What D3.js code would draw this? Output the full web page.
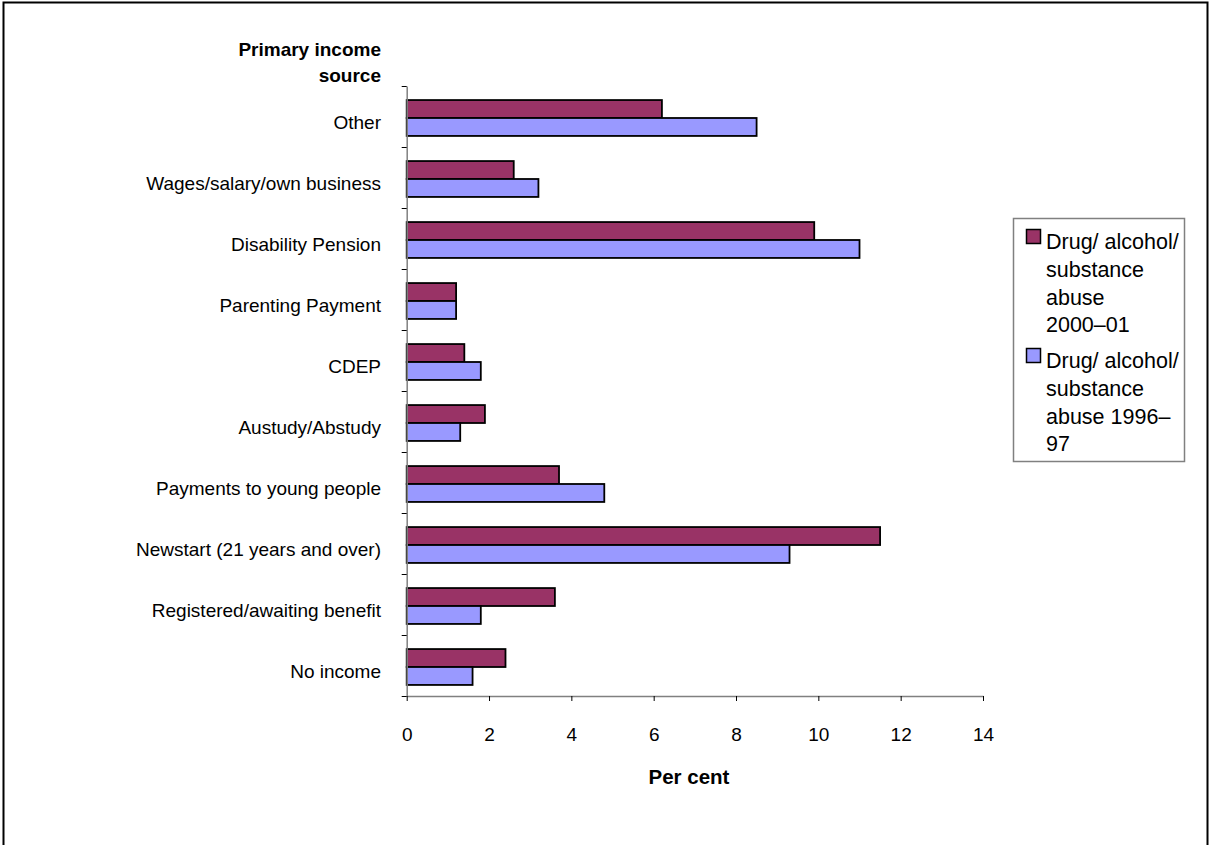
<!DOCTYPE html>
<html>
<head>
<meta charset="utf-8">
<script src="https://cdn.jsdelivr.net/npm/d3@7"></script>
<style>
  html, body { margin: 0; padding: 0; background: #fff; }
  svg { display: block; }
  text { font-family: "Liberation Sans", Arial, Helvetica, sans-serif; fill: #000; }
</style>
</head>
<body>
<svg id="chart" width="1213" height="845"></svg>
<script>
const categories = [
  "Other",
  "Wages/salary/own business",
  "Disability Pension",
  "Parenting Payment",
  "CDEP",
  "Austudy/Abstudy",
  "Payments to young people",
  "Newstart (21 years and over)",
  "Registered/awaiting benefit",
  "No income"
];
const series2000 = [6.2, 2.6, 9.9, 1.2, 1.4, 1.9, 3.7, 11.5, 3.6, 2.4];
const series1996 = [8.5, 3.2, 11.0, 1.2, 1.8, 1.3, 4.8, 9.3, 1.8, 1.6];
const seriesNames = ["2000–01", "1996–97"];
const xTicks = [0, 2, 4, 6, 8, 10, 12, 14];
const legendLines = [
  ["Drug/ alcohol/", "substance", "abuse", "2000–01"],
  ["Drug/ alcohol/", "substance", "abuse 1996–", "97"]
];
const yTitleLines = ["Primary income", "source"];
const xTitle = "Per cent";

const colors = ["#993366", "#9999FF"];
const svg = d3.select("#chart");

// frame
svg.append("rect")
  .attr("x", 3.5).attr("y", 2.5)
  .attr("width", 1204).attr("height", 900)
  .attr("fill", "none").attr("stroke", "#000").attr("stroke-width", 2);

const plot = { left: 406.7, right: 983, top: 86, bottom: 696 };

const x = d3.scaleLinear().domain([0, 14]).range([plot.left, plot.right]);
const y = d3.scaleBand().domain(categories).range([plot.top, plot.bottom]).padding(0);
const yInner = d3.scaleBand().domain(seriesNames).range([1.5, y.bandwidth() + 1.5]).paddingOuter(0.7).paddingInner(0);
const yEdge = d3.scaleLinear().domain([0, categories.length]).range([plot.top, plot.bottom]);

// bars
const data = categories.map((c, i) => ({ c, vals: [series2000[i], series1996[i]] }));
const groups = svg.append("g").selectAll("g")
  .data(data).join("g")
  .attr("transform", d => `translate(0,${y(d.c)})`);
groups.selectAll("rect")
  .data(d => d.vals.map((v, k) => ({ v, k })))
  .join("rect")
  .attr("x", x(0))
  .attr("y", d => yInner(seriesNames[d.k]))
  .attr("width", d => x(d.v) - x(0))
  .attr("height", yInner.bandwidth())
  .attr("fill", d => colors[d.k])
  .attr("stroke", "#000")
  .attr("stroke-width", 1.8);

// y axis (category boundaries)
const yAxis = svg.append("g")
  .attr("transform", `translate(${plot.left},0)`)
  .call(d3.axisLeft(yEdge).tickValues(d3.range(0, categories.length + 1)).tickFormat("").tickSize(5).tickSizeOuter(0));
yAxis.select(".domain").attr("stroke", "#808080").attr("stroke-width", 1.5);
yAxis.selectAll(".tick line").attr("stroke", "#000").attr("stroke-width", 1);

// category labels
svg.append("g").selectAll("text")
  .data(categories).join("text")
  .attr("x", 381)
  .attr("y", d => y(d) + y.bandwidth() / 2 + 6)
  .attr("dy", "0.35em")
  .attr("text-anchor", "end")
  .style("font-size", "19px")
  .text(d => d);

// x axis
const xAxis = svg.append("g")
  .attr("transform", `translate(0,${plot.bottom})`)
  .call(d3.axisBottom(x).tickValues(xTicks).tickSize(5).tickSizeOuter(0).tickPadding(27));
xAxis.select(".domain").attr("stroke", "#808080").attr("stroke-width", 1.5);
xAxis.selectAll(".tick line").attr("stroke", "#000").attr("stroke-width", 1);
xAxis.selectAll(".tick text")
  .style("font-size", "19px")
  .style("font-family", "'Liberation Sans', Arial, sans-serif")
  .attr("fill", "#000");

// axis titles
svg.append("g").selectAll("text")
  .data(yTitleLines).join("text")
  .attr("x", 381)
  .attr("y", (d, i) => 56 + i * 26)
  .attr("text-anchor", "end")
  .style("font-size", "19px")
  .style("font-weight", "bold")
  .text(d => d);

svg.append("text")
  .attr("x", 689).attr("y", 784)
  .attr("text-anchor", "middle")
  .style("font-size", "20.5px")
  .style("font-weight", "bold")
  .text(xTitle);

// legend
const lg = svg.append("g");
lg.append("rect")
  .attr("x", 1013.5).attr("y", 218.5)
  .attr("width", 171).attr("height", 243)
  .attr("fill", "#fff").attr("stroke", "#808080").attr("stroke-width", 1.5);
const itemTop = [229, 348];
legendLines.forEach((lines, k) => {
  lg.append("rect")
    .attr("x", 1026.5).attr("y", itemTop[k] + 0.5)
    .attr("width", 14).attr("height", 14)
    .attr("fill", colors[k]).attr("stroke", "#000").attr("stroke-width", 1.5);
  lg.append("g").selectAll("text")
    .data(lines).join("text")
    .attr("x", 1046)
    .attr("y", (d, i) => itemTop[k] + 20 + i * 27.8)
    .style("font-size", "21.5px")
    .text(d => d);
});
</script>
</body>
</html>
